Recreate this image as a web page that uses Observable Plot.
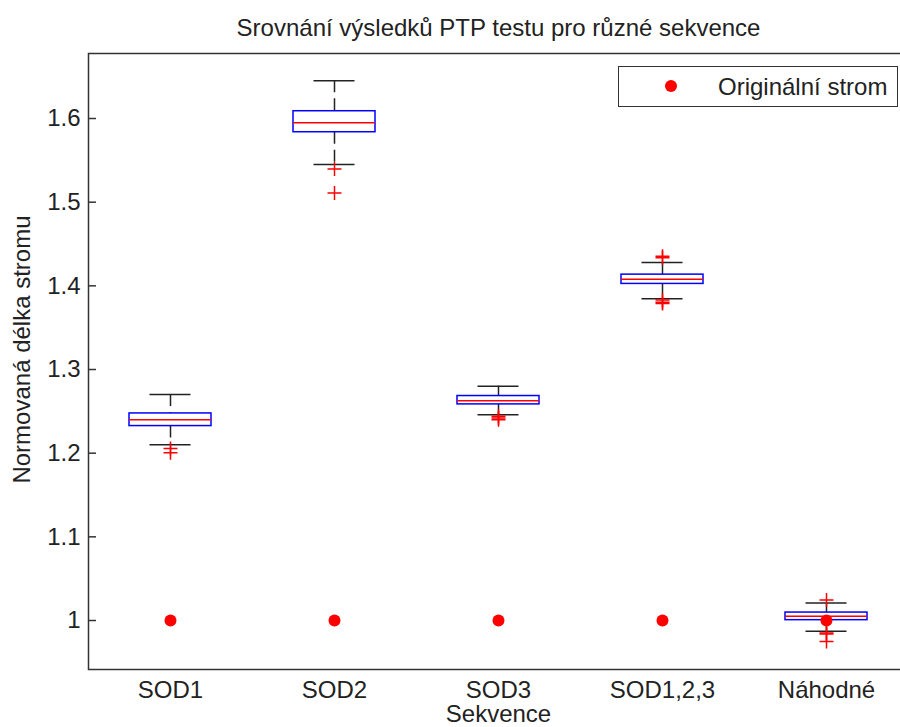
<!DOCTYPE html>
<html>
<head>
<meta charset="utf-8">
<script src="https://cdn.jsdelivr.net/npm/d3@7"></script>
<script src="https://cdn.jsdelivr.net/npm/@observablehq/plot@0.6"></script>
<style>
  html, body { margin: 0; padding: 0; background: #fff; overflow: hidden; }
  #chart { position: relative; width: 900px; height: 727px; font-family: "Liberation Sans", Arial, sans-serif; }
  #legend {
    position: absolute; left: 618px; top: 66px; width: 280px; height: 41px;
    border: 1.5px solid #333; background: #fff; box-sizing: border-box;
    font-size: 24px; color: #222;
  }
  #legend .dot {
    position: absolute; left: 46px; top: 13px; width: 12px; height: 12px;
    border-radius: 50%; background: #ff0000;
  }
  #legend .lbl { position: absolute; left: 99px; top: 6px; white-space: nowrap; }
</style>
</head>
<body>
<div id="chart"></div>
<script>
// Sequence groups along the x axis
const categories = ["SOD1", "SOD2", "SOD3", "SOD1,2,3", "Náhodné"];

// Box plot statistics of normalized tree length per sequence group
const upperWhisker = [1.270, 1.645, 1.280, 1.428, 1.021];
const upperQuartile = [1.2475, 1.6087, 1.2683, 1.4134, 1.0095];
const medians = [1.240, 1.5948, 1.2627, 1.4078, 1.0051];
const lowerQuartile = [1.2324, 1.5836, 1.2583, 1.4023, 1.0004];
const lowerWhisker = [1.210, 1.545, 1.2459, 1.3847, 0.9872];

// Outlying values per group
const outliers = [
  [1.2055, 1.2005],
  [1.5398, 1.5111],
  [1.2440, 1.2420, 1.2400],
  [1.4355, 1.4335, 1.3830, 1.3805, 1.3790],
  [1.0246, 0.9850, 0.9838, 0.9748]
];

// Normalized length of the original tree
const originalTree = [1, 1, 1, 1, 1];

// Axis ticks
const yTicks = [1, 1.1, 1.2, 1.3, 1.4, 1.5, 1.6];
const xTicks = [1, 2, 3, 4, 5];

const BOX_HALF = 0.25;   // half box width in category units
const CAP_HALF = 0.125;  // half whisker-cap width

const boxes = categories.map((name, i) => ({
  name, x: i + 1,
  hi: upperWhisker[i], q3: upperQuartile[i], med: medians[i],
  q1: lowerQuartile[i], lo: lowerWhisker[i]
}));
const outlierRows = outliers.flatMap((vals, i) => vals.map(v => ({x: i + 1, y: v})));
const originalRows = originalTree.map((v, i) => ({x: i + 1, y: v}));

// Thin stroked "+" marker
const plusSymbol = {
  draw(ctx, size) {
    const h = Math.sqrt(size / Math.PI);
    ctx.moveTo(-h, 0); ctx.lineTo(h, 0);
    ctx.moveTo(0, -h); ctx.lineTo(0, h);
  }
};

const ink = "#222";

const plot = Plot.plot({
  width: 900,
  height: 727,
  marginTop: 53,
  marginBottom: 58,
  marginLeft: 88,
  marginRight: -8,
  style: {fontFamily: "'Liberation Sans', Arial, sans-serif", fontSize: "24px", color: ink, background: "#fff"},
  x: {domain: [0.5, 5.5]},
  y: {domain: [0.94144, 1.6777]},
  marks: [
    Plot.frame({stroke: "#333", strokeWidth: 1.5}),
    Plot.axisY({ticks: yTicks, tickFormat: d => String(d), tickSize: -8, tickPadding: 16,
                stroke: "#333", strokeWidth: 1.5, strokeOpacity: 1, label: null}),
    Plot.axisX({ticks: xTicks, tickFormat: i => categories[i - 1], tickSize: 0, tickPadding: 11, label: null}),
    // whiskers
    Plot.ruleX(boxes, {x: "x", y1: "hi", y2: "q3", stroke: ink, strokeWidth: 1.5, strokeDasharray: "12,6"}),
    Plot.ruleX(boxes, {x: "x", y1: "q1", y2: "lo", stroke: ink, strokeWidth: 1.5, strokeDasharray: "12,6"}),
    Plot.ruleY(boxes, {y: "hi", x1: d => d.x - CAP_HALF, x2: d => d.x + CAP_HALF, stroke: ink, strokeWidth: 1.5}),
    Plot.ruleY(boxes, {y: "lo", x1: d => d.x - CAP_HALF, x2: d => d.x + CAP_HALF, stroke: ink, strokeWidth: 1.5}),
    // boxes
    Plot.rect(boxes, {x1: d => d.x - BOX_HALF, x2: d => d.x + BOX_HALF, y1: "q1", y2: "q3",
                      fill: "none", stroke: "#0000ff", strokeWidth: 1.5}),
    Plot.ruleY(boxes, {y: "med", x1: d => d.x - BOX_HALF, x2: d => d.x + BOX_HALF, stroke: "#ff0000", strokeWidth: 1.5}),
    // outliers
    Plot.dot(outlierRows, {x: "x", y: "y", symbol: plusSymbol, r: 7, stroke: "#ff0000", fill: "none", strokeWidth: 1.5}),
    // original tree
    Plot.dot(originalRows, {x: "x", y: "y", r: 6, fill: "#ff0000", stroke: "none"}),
    // title and axis labels
    Plot.text(["Srovnání výsledků PTP testu pro různé sekvence"],
              {frameAnchor: "top", dy: -25, lineAnchor: "middle", textAnchor: "middle", fill: ink}),
    Plot.text(["Sekvence"],
              {frameAnchor: "bottom", dy: 45, lineAnchor: "middle", textAnchor: "middle", fill: ink}),
    Plot.text(["Normovaná délka stromu"],
              {frameAnchor: "left", dx: -66, dy: -12, rotate: -90, lineAnchor: "middle", textAnchor: "middle", fill: ink})
  ]
});

const chart = document.getElementById("chart");
chart.appendChild(plot);

const legend = document.createElement("div");
legend.id = "legend";
legend.innerHTML = '<span class="dot"></span><span class="lbl">Originální strom</span>';
chart.appendChild(legend);
</script>
</body>
</html>
